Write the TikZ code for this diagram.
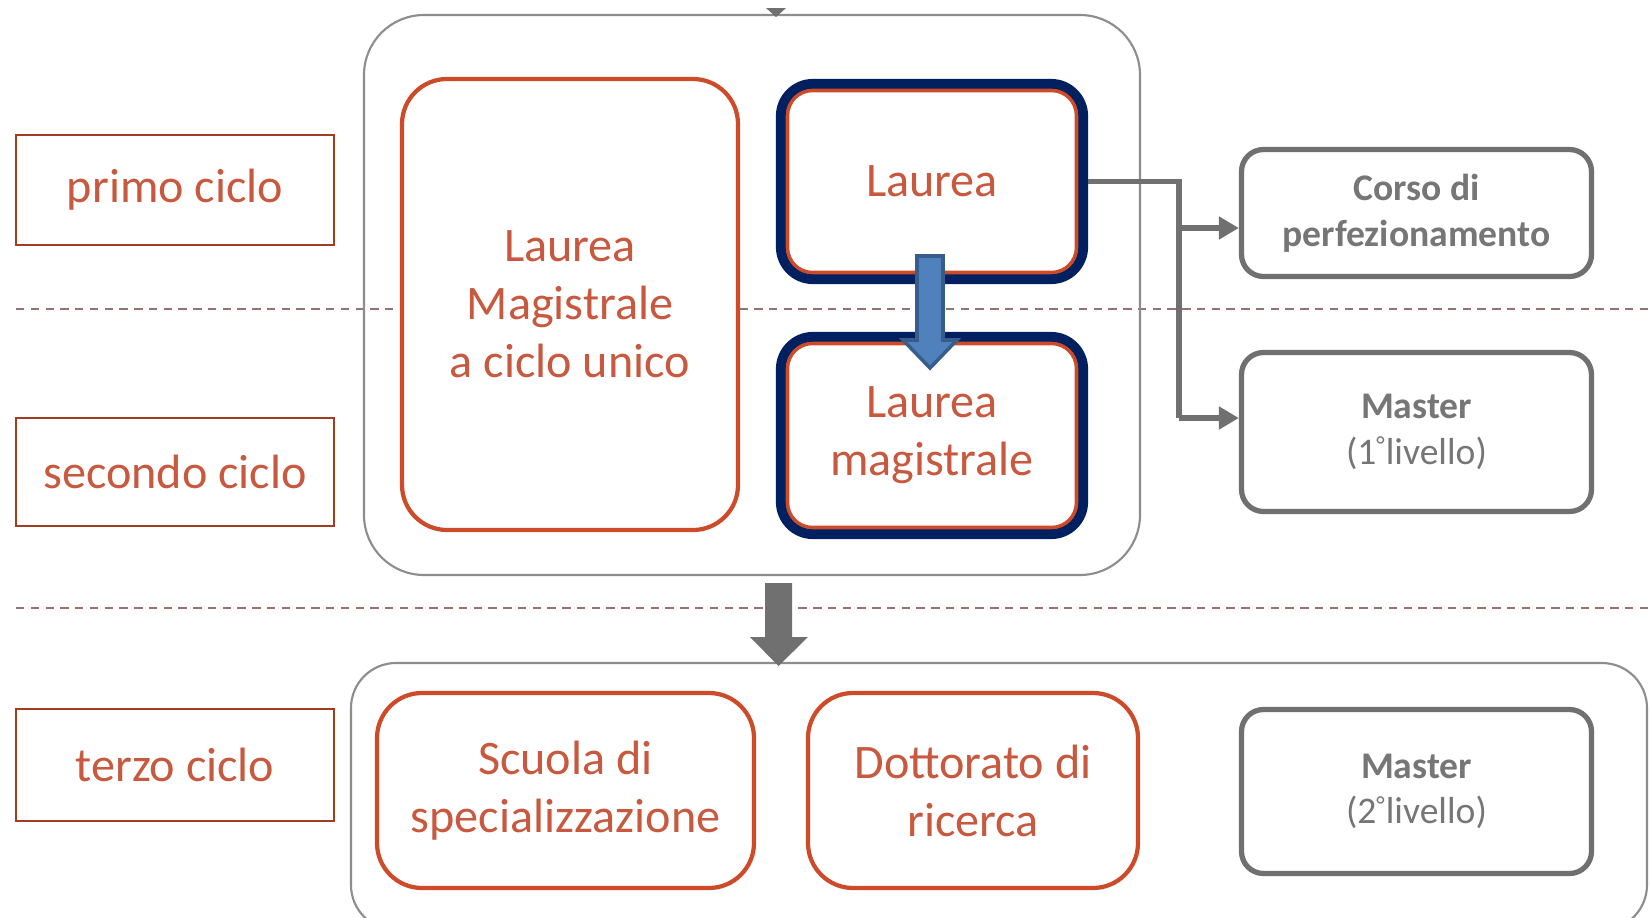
\documentclass[tikz,border=0pt]{standalone}
\usepackage{fontspec}
\setmainfont{Carlito}
\usetikzlibrary{arrows.meta}
\definecolor{boxred}{RGB}{205,75,40}
\definecolor{textred}{RGB}{200,88,62}
\definecolor{navyline}{RGB}{0,32,96}
\definecolor{arrowblue}{RGB}{79,129,189}
\definecolor{arrowedge}{RGB}{56,93,138}
\definecolor{greyline}{RGB}{112,112,112}
\definecolor{greytext}{RGB}{118,118,118}
\definecolor{dashcol}{RGB}{150,115,110}
\newcommand{\livdeg}{{\fontsize{7}{7}\selectfont\raisebox{0.9ex}{°}\hspace{0.3pt}}}
\tikzset{
    ciclo/.style={draw=boxred!80!black, line width=0.6pt, text=textred, fill=white,
        minimum width=3.18cm, font=\fontsize{13.7}{16.5}\selectfont},
    redbox/.style={draw=boxred, line width=1.2pt, rounded corners=0.45cm, fill=white,
        text=textred, align=center, font=\fontsize{13.7}{16.5}\selectfont},
    navybox/.style={draw=navyline, line width=2.9pt, rounded corners=0.32cm, fill=white},
    greybox/.style={draw=greyline, line width=1.5pt, rounded corners=0.22cm, fill=white,
        text=greytext, align=center, font=\fontsize{10.7}{13}\selectfont},
    gline/.style={draw=greyline, line width=1.6pt},
    frame/.style={draw=greyline!80, line width=0.6pt},
}
\begin{document}
\begin{tikzpicture}
    \clip (0,0) rectangle (16.5,-9.18);
    \fill[white] (0,0) rectangle (16.5,-9.18);

    % separatori dei cicli
    \draw[dashcol, line width=0.6pt, dash pattern=on 2.4pt off 1.8pt] (0.16,-3.09) -- (16.5,-3.09);
    \draw[dashcol, line width=0.6pt, dash pattern=on 2.4pt off 1.8pt] (0.16,-6.08) -- (16.5,-6.08);

    % contenitori
    \draw[frame, rounded corners=0.6cm] (3.64,-0.15) rectangle (11.40,-5.75);
    \draw[frame, rounded corners=0.45cm] (3.51,-6.63) rectangle (16.47,-9.30);
    \fill[greyline] (7.66,-0.08) -- (7.86,-0.08) -- (7.76,-0.17) -- cycle;

    % etichette
    \node[ciclo, minimum height=1.10cm] (primo) at (1.75,-1.90) {primo ciclo};
    \node[ciclo, minimum height=1.08cm] (secondo) at (1.75,-4.72) {secondo ciclo};
    \node[ciclo, minimum height=1.12cm] (terzo) at (1.75,-7.65) {terzo ciclo};

    % primo e secondo ciclo
    \node[redbox, minimum width=3.36cm, minimum height=4.51cm] (lmcu) at (5.70,-3.045)
        {Laurea\\Magistrale\\a ciclo unico};
    \node[navybox, minimum width=3.02cm, minimum height=1.95cm] (lau) at (9.32,-1.815) {};
    \node[redbox, line width=1pt, rounded corners=0.25cm, minimum width=2.89cm,
        minimum height=1.82cm] (lautxt) at (lau.center) {Laurea};
    \node[navybox, minimum width=3.02cm, minimum height=1.97cm] (lm) at (9.32,-4.355) {};
    \node[redbox, line width=1pt, rounded corners=0.25cm, minimum width=2.89cm,
        minimum height=1.84cm] (lmtxt) at (lm.center) {Laurea\\magistrale};
    \filldraw[fill=arrowblue, draw=arrowedge, line width=1pt]
        (9.17,-2.56) -- (9.43,-2.56) -- (9.43,-3.40) -- (9.57,-3.40) -- (9.30,-3.68)
        -- (9.03,-3.40) -- (9.17,-3.40) -- cycle;

    % corsi paralleli
    \node[greybox, minimum width=3.50cm, minimum height=1.27cm] (corso) at (14.165,-2.13)
        {\textbf{Corso di}\\\textbf{perfezionamento}};
    \node[greybox, minimum width=3.50cm, minimum height=1.59cm] (mast1) at (14.165,-4.32)
        {\textbf{Master}\\(1\livdeg livello)};
    \coordinate (jA) at (11.79,-2.28);
    \coordinate (jB) at (11.79,-4.18);
    \draw[gline] (lau.east) -| (jB);
    \draw[gline, -{Triangle[length=0.2cm,width=0.22cm]}] (jA) -- (jA -| corso.west);
    \draw[gline, -{Triangle[length=0.2cm,width=0.22cm]}] (jB) -- (jB -| mast1.west);

    % passaggio al terzo ciclo
    \fill[greyline] (7.65,-5.83) -- (7.92,-5.83) -- (7.92,-6.37) -- (8.08,-6.37) -- (7.785,-6.66)
        -- (7.50,-6.37) -- (7.65,-6.37) -- cycle;

    % terzo ciclo
    \node[redbox, minimum width=3.77cm, minimum height=1.95cm] (scuola) at (5.655,-7.905)
        {Scuola di\\specializzazione};
    \node[redbox, minimum width=3.30cm, minimum height=1.95cm] (dott) at (9.73,-7.905)
        {Dottorato di\\ricerca};
    \node[greybox, minimum width=3.50cm, minimum height=1.64cm] (mast2) at (14.165,-7.915)
        {\textbf{Master}\\(2\livdeg livello)};
\end{tikzpicture}
\end{document}
